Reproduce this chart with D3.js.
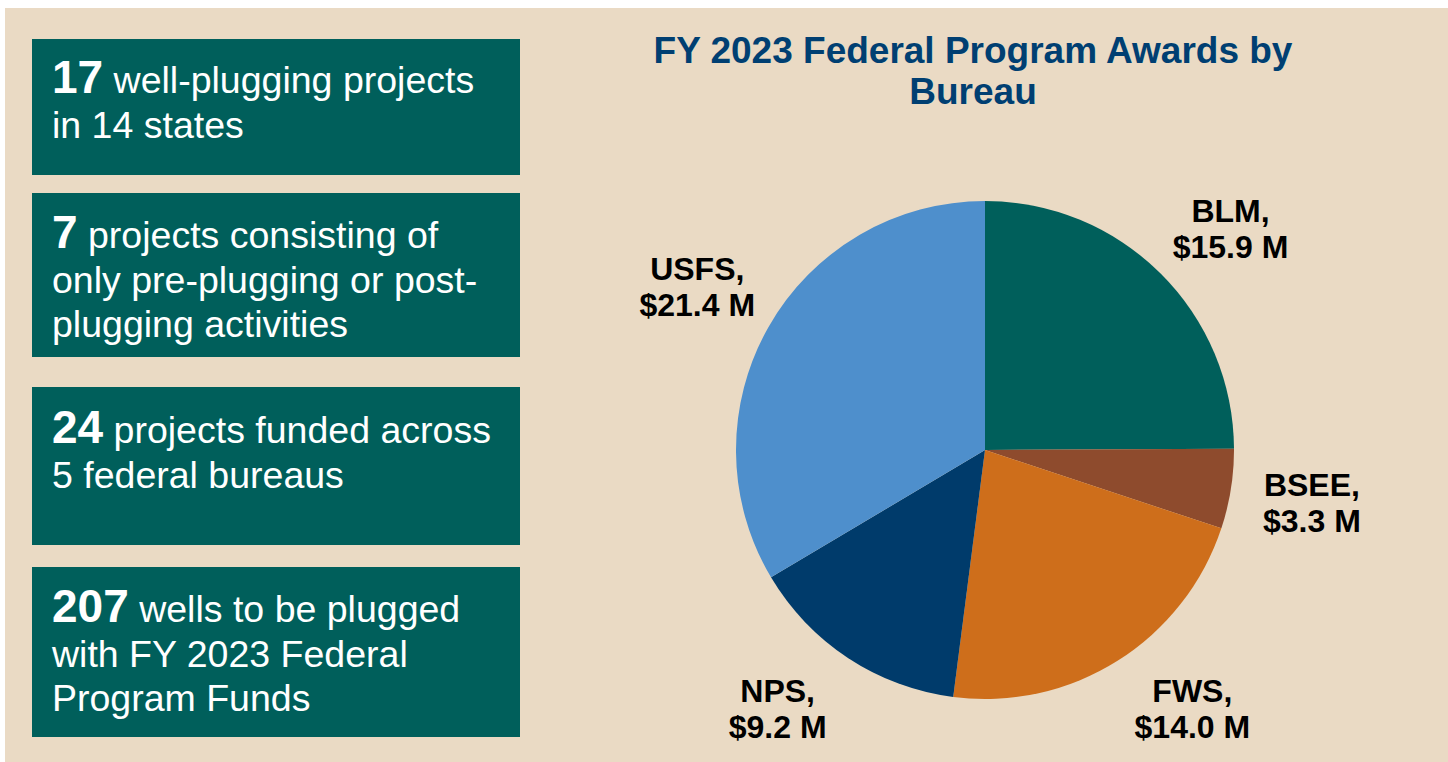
<!DOCTYPE html>
<html>
<head>
<meta charset="utf-8">
<script src="https://cdn.jsdelivr.net/npm/d3@7"></script>
<style>
  html, body { margin: 0; padding: 0; background: #ffffff; }
  svg { display: block; font-family: "Liberation Sans", Arial, sans-serif; }
</style>
</head>
<body>
<div id="chart"></div>
<script>
// bureau awards, $ millions
var bureaus = ["BLM", "BSEE", "FWS", "NPS", "USFS"];
var awards = [15.9, 3.3, 14.0, 9.2, 21.4];
var sliceColors = ["#005f5b", "#8e4b2d", "#ce6e1b", "#003b6b", "#4e8fcc"];

var chartTitle = ["FY 2023 Federal Program Awards by", "Bureau"];

// fact boxes: bold number, then the rest of the text lines
var factNumbers = ["17", "7", "24", "207"];
var factLines = [
  [" well-plugging projects", "in 14 states"],
  [" projects consisting of", "only pre-plugging or post-", "plugging activities"],
  [" projects funded across", "5 federal bureaus"],
  [" wells to be plugged", "with FY 2023 Federal", "Program Funds"]
];

var W = 1448, H = 762;

var svg = d3.select("#chart").append("svg")
  .attr("width", W)
  .attr("height", H);

// beige panel
svg.append("rect")
  .attr("x", 5).attr("y", 8)
  .attr("width", W - 5).attr("height", H - 8)
  .attr("fill", "#eadac4");

//////////////////////////////////////////////////
// fact boxes
var boxTop = [39, 193, 387, 567];
var boxBottom = [175, 357, 545, 737];
var firstBase = [93, 248, 443, 622];
var lineGap = 44.5;

var boxes = svg.selectAll("g.fact")
  .data(factNumbers)
  .enter().append("g")
  .attr("class", "fact");

boxes.append("rect")
  .attr("x", 32)
  .attr("y", function(d, i) { return boxTop[i]; })
  .attr("width", 488)
  .attr("height", function(d, i) { return boxBottom[i] - boxTop[i]; })
  .attr("fill", "#005f5b");

boxes.each(function(d, i) {
  var g = d3.select(this);
  var t = g.append("text")
    .attr("x", 52)
    .attr("y", firstBase[i])
    .attr("fill", "#ffffff");
  t.append("tspan")
    .attr("font-size", 46)
    .attr("font-weight", "bold")
    .text(d);
  t.append("tspan")
    .attr("font-size", 37.5)
    .attr("xml:space", "preserve")
    .style("white-space", "pre")
    .text(factLines[i][0]);
  for (var k = 1; k < factLines[i].length; k++) {
    g.append("text")
      .attr("x", 52)
      .attr("y", firstBase[i] + k * lineGap)
      .attr("font-size", 37.5)
      .attr("fill", "#ffffff")
      .text(factLines[i][k]);
  }
});

//////////////////////////////////////////////////
// title
svg.selectAll("text.title")
  .data(chartTitle)
  .enter().append("text")
  .attr("class", "title")
  .attr("x", 973)
  .attr("y", function(d, i) { return 63 + i * 41; })
  .attr("text-anchor", "middle")
  .attr("font-size", 37)
  .attr("font-weight", "bold")
  .attr("fill", "#003f72")
  .text(function(d) { return d; });

//////////////////////////////////////////////////
// pie
var cx = 985, cy = 450, R = 249;
var labelR = 331;
var maxLabelY = 258;  // keep bottom labels inside the panel
var minLabelY = -222; // keep top labels clear of the title

var pie = d3.pie().sort(null).value(function(d) { return d; });
var arcs = pie(awards);

var arc = d3.arc().innerRadius(0).outerRadius(R);
var labelArc = d3.arc().innerRadius(labelR).outerRadius(labelR);

var color = d3.scaleOrdinal().domain(bureaus).range(sliceColors);

var pg = svg.append("g")
  .attr("transform", "translate(" + cx + "," + cy + ")");

pg.selectAll("path")
  .data(arcs)
  .enter().append("path")
  .attr("d", arc)
  .attr("fill", function(d, i) { return color(bureaus[i]); });

// slide a label along the label circle if it would fall outside the band
function labelPos(d) {
  var c = labelArc.centroid(d);
  var y = Math.max(minLabelY, Math.min(maxLabelY, c[1]));
  if (y != c[1]) {
    c[1] = y;
    c[0] = Math.sign(c[0]) * Math.sqrt(labelR * labelR - y * y);
  }
  return c;
}

var labels = pg.selectAll("text.lbl")
  .data(arcs)
  .enter().append("text")
  .attr("class", "lbl")
  .attr("text-anchor", "middle")
  .attr("font-size", 32)
  .attr("font-weight", "bold")
  .attr("fill", "#000000")
  .attr("transform", function(d) { return "translate(" + labelPos(d) + ")"; });

labels.append("tspan")
  .attr("x", 0)
  .attr("y", -6)
  .text(function(d, i) { return bureaus[i] + ","; });

labels.append("tspan")
  .attr("x", 0)
  .attr("y", 30)
  .text(function(d) { return "$" + d.value.toFixed(1) + " M"; });
</script>
</body>
</html>
